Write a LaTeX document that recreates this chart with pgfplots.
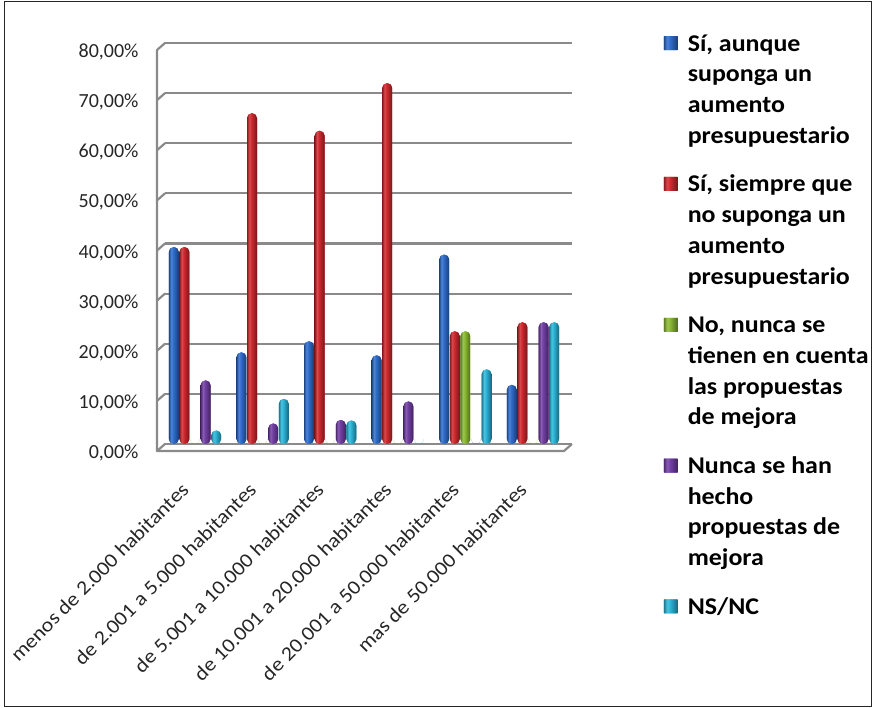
\documentclass[border=0pt]{standalone}
\usepackage{fontspec}
\setmainfont{Carlito}
\newfontfamily\catfont[FakeStretch=1.1]{Carlito}
\newfontfamily\legfont[FakeStretch=1.08]{Carlito}
\usepackage{pgfplots}
\usepackage{pgfplotstable}
\pgfplotsset{compat=1.18}

\definecolor{cBlue}{HTML}{2F6ECF}
\definecolor{cRed}{HTML}{D12A2F}
\definecolor{cGreen}{HTML}{8CBB34}
\definecolor{cPurple}{HTML}{7440A6}
\definecolor{cCyan}{HTML}{2DB7DA}
\definecolor{gridc}{RGB}{138,138,138}

% cylinder-like horizontal shading for each series colour
\newcommand\cylshading[1]{%
  \pgfdeclarehorizontalshading{cyl#1}{100bp}{%
    color(0bp)=(#1!65!black); color(25bp)=(#1!65!black);
    color(37bp)=(#1!85!white); color(46bp)=(#1);
    color(75bp)=(#1!55!black); color(100bp)=(#1!55!black)}}
\cylshading{cBlue}\cylshading{cRed}\cylshading{cGreen}
\cylshading{cPurple}\cylshading{cCyan}

% share of answers (%) by municipality size
\pgfplotstableread{
x  si    sino  no    nunca  ns
0  39.3  39.3  0     12.7   2.7
1  18.3  66.0  0     4.1    9.0
2  20.5  62.5  0     4.8    4.7
3  17.7  72.0  0     8.5    0
4  37.8  22.5  22.5  0      14.9
5  11.8  24.3  0     24.3   24.3
}\datatable

\pgfplotsset{
  cyl/.style={draw=none, fill=#1, shading=cyl#1, shade, rounded corners=5pt},
}
% one path per bar, so that every cylinder gets its own shading
\newcommand\series[3]{%
  \pgfplotsinvokeforeach{0,1,2,3,4,5}{%
    \addplot[cyl=#1, bar shift=#3, forget plot,
      restrict x to domain=##1:##1] table[x=x, y=#2] {\datatable};
  }%
}
% legend: first line with the coloured key, further lines without one
\newcommand\legfirst[3][]{\addlegendimage{cyl=#2}\addlegendentry[#1]{#3}}
\newcommand\legmore[1]{\addlegendimage{empty legend}\addlegendentry{#1}}

\begin{document}
\begin{tikzpicture}
\draw[black!85, line width=1pt] (4.5pt,1.5pt) rectangle (871pt,706.5pt);
\begin{axis}[
  scale only axis, width=407pt, height=401pt,
  at={(165pt,264pt)}, anchor=south west,
  xmin=-0.444, xmax=5.577, ymin=0, ymax=80,
  clip=false,
  ybar, bar width=10pt,
  axis x line*=bottom, axis y line*=left,
  axis line style={draw=none},
  ymajorgrids, grid style={line width=2.2pt, color=gridc},
  major tick length=0pt,
  ytick={0,10,...,80},
  /pgf/number format/assume math mode=true,
  yticklabel={\pgfmathprintnumber[fixed,fixed zerofill,precision=2,use comma]{\tick}\%},
  yticklabel style={font=\fontsize{20}{24}\selectfont, xshift=-23pt, yshift=-9pt, text=black!85},
  xtick=data,
  xticklabels={menos de 2.000 habitantes, de 2.001 a 5.000 habitantes, de 5.001 a 10.000 habitantes, de 10.001 a 20.000 habitantes, de 20.001 a 50.000 habitantes, mas de 50.000 habitantes},
  xticklabel style={xshift=-5pt, yshift=-47pt, rotate=45, anchor=base east,
    inner sep=0pt, font=\catfont\fontsize{20}{24}\selectfont, text=black!85},
  legend style={draw=none, fill=none, inner sep=0pt,
    at={(1.225,1.048)}, anchor=north west,
    font=\legfont\bfseries\fontsize{24}{30}\selectfont,
    cells={anchor=base west, inner sep=0pt, text height=25.2pt},
    row sep=0pt},
  legend image code/.code={%
    \fill[#1, rounded corners=0.5pt] (0pt,1pt) rectangle (14pt,15pt);
    \path (22pt,0pt);},
]
% side wall and floor edges of the frame
\pgfplotsinvokeforeach{0,10,20,30,40,50,60,70,80}{
  \draw[gridc, line width=2.2pt, line cap=round] (axis cs:-0.444,#1) -- ++(-8pt,-7pt);
}
\draw[gridc, line width=2.2pt, line join=round]
  ([shift={(-8pt,-7pt)}]rel axis cs:0,1) -- ([shift={(-8pt,-7pt)}]rel axis cs:0,0)
  -- ([shift={(-8pt,-7pt)}]rel axis cs:1,0) -- (rel axis cs:1,0);
\series{cBlue}{si}{-21.2pt}
\series{cRed}{sino}{-10.6pt}
\series{cGreen}{no}{0pt}
\series{cPurple}{nunca}{10.6pt}
\series{cCyan}{ns}{21.2pt}
\legfirst{cBlue}{Sí, aunque}
\legmore{suponga un}
\legmore{aumento}
\legmore{presupuestario}
\legfirst[text height=43.2pt]{cRed}{Sí, siempre que}
\legmore{no suponga un}
\legmore{aumento}
\legmore{presupuestario}
\legfirst[text height=43.2pt]{cGreen}{No, nunca se}
\legmore{tienen en cuenta}
\legmore{las propuestas}
\legmore{de mejora}
\legfirst[text height=43.2pt]{cPurple}{Nunca se han}
\legmore{hecho}
\legmore{propuestas de}
\legmore{mejora}
\legfirst[text height=43.2pt]{cCyan}{NS/NC}
\end{axis}
\pgfresetboundingbox
\path[use as bounding box] (0pt,0pt) rectangle (872pt,708pt);
\end{tikzpicture}
\end{document}
